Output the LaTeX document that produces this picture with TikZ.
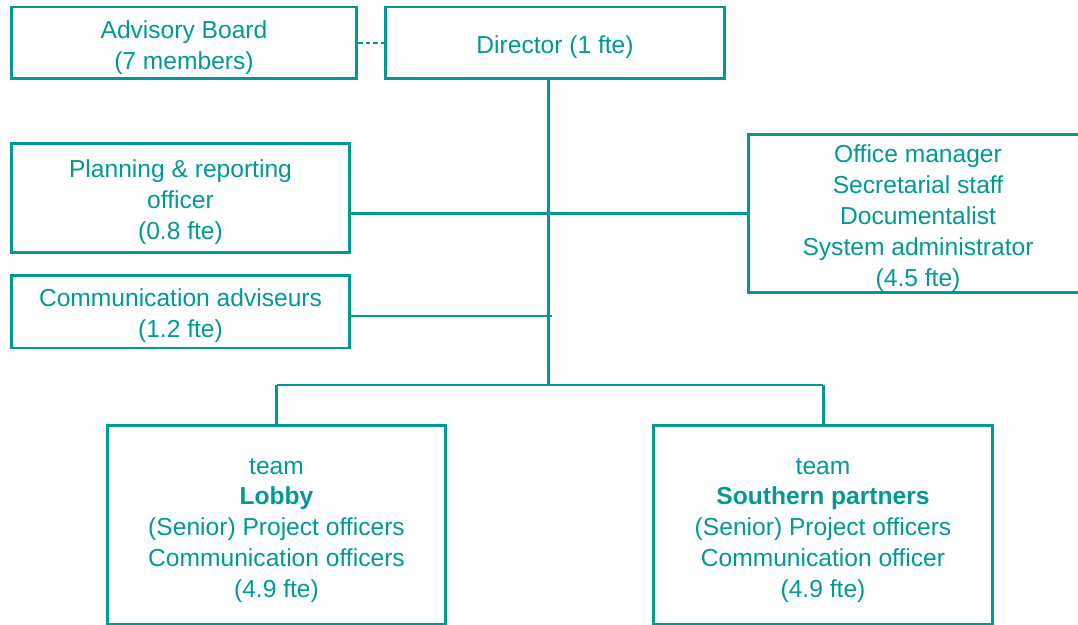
\documentclass[tikz,border=0pt]{standalone}
\usepackage{fontspec}
\setmainfont{Liberation Sans}
\usepackage[]{xcolor}
\usepackage{tikz}
\usetikzlibrary{positioning}
\definecolor{orgline}{RGB}{0,153,150}
% extra room above the first line of a box
\newcommand{\firstline}{\rule{0pt}{15.3pt}}
\tikzset{
		unit/.style={draw=orgline, line width=1.7pt, rectangle, align=center, text=orgline,
			inner sep=0pt, font=\fontsize{14}{17.6}\selectfont},
		link/.style={draw=orgline, line width=1.7pt},
		advice/.style={link, dash pattern=on 2.6pt off 1.6pt}
	}

\begin{document}
\begin{tikzpicture}[x=0.02cm, y=-0.02cm]
				\useasboundingbox (0,0) rectangle (1078,625);

				\node[unit, minimum width=6.92cm, minimum height=1.44cm] (board)  at (184,43)    {\firstline Advisory Board\\(7 members)};
				\node[unit, minimum width=6.8cm,  minimum height=1.44cm] (dir)    at (555,43)    {\firstline Director (1 fte)};
				\node[unit, minimum width=6.78cm, minimum height=2.2cm]  (plan)   at (180.5,198) {\firstline Planning \& reporting\\officer\\(0.8 fte)};
				\node[unit, minimum width=6.8cm,  minimum height=3.18cm] (office) at (918,213.5) {\firstline Office manager\\Secretarial staff\\Documentalist\\System administrator\\(4.5 fte)};
				\node[unit, minimum width=6.78cm, minimum height=1.46cm] (comm)   at (180.5,311.5) {\firstline Communication adviseurs\\(1.2 fte)};
				\node[unit, minimum width=6.78cm, minimum height=4cm]    (lobby)  at (276.5,525) {\firstline team\\\textbf{Lobby}\\(Senior) Project officers\\Communication officers\\(4.9 fte)};
				\node[unit, minimum width=6.8cm,  minimum height=4cm]    (south)  at (823,525)   {\firstline team\\\textbf{Southern partners}\\(Senior) Project officers\\Communication officer\\(4.9 fte)};

				\coordinate (trunk) at (548,385);
				\coordinate (tick)  at (552,316);

				\draw[advice] (board.east) -- (dir.west);
				\draw[link] (dir.south -| trunk) -- (trunk);
				\draw[link] (plan.east |- office.west) -- (office.west);
				\draw[link] (comm.east |- tick) -- (tick);
				\draw[link] (lobby.north |- trunk) -- (south.north |- trunk);
				\draw[link] (lobby.north |- trunk) -- (lobby.north);
				\draw[link] (south.north |- trunk) -- (south.north);
			\end{tikzpicture}
\end{document}
